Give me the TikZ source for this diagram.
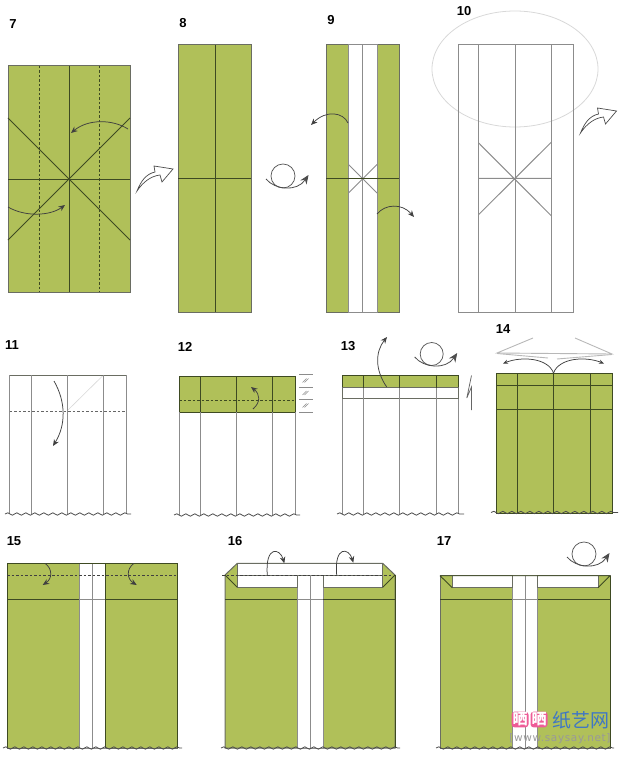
\documentclass[tikz,border=0pt]{standalone}
\usepackage{fontspec}
\setmainfont{Liberation Sans}
\newfontfamily\cjkf{Noto Sans CJK SC}
\newfontfamily\markf[LetterSpace=6]{DejaVu Sans}
\usetikzlibrary{arrows.meta,decorations.pathmorphing}
\definecolor{paper}{HTML}{B0C059}
\definecolor{edge}{HTML}{6A6D62}
\definecolor{crease}{HTML}{3E4A22}
\definecolor{pale}{HTML}{8C8C8C}
\definecolor{faint}{HTML}{D8D8D8}
\definecolor{pinkm}{HTML}{EE5C97}
\definecolor{bluem}{HTML}{3F77C4}
\tikzset{
  sheet/.style={draw=edge,line width=1pt},
  green/.style={sheet,fill=paper},
  blank/.style={draw=pale,line width=1pt,fill=white},
  fold/.style={draw=crease,line width=0.9pt},
  graycrease/.style={draw=pale,line width=1pt},
  valley/.style={draw=crease,line width=0.85pt,dash pattern=on 2.5pt off 2pt},
  move/.style={draw=black!75,line width=0.75pt,-{Stealth[length=6.5pt,width=5.5pt]}},
  hollow/.style={draw=black!70,fill=white,line width=0.7pt,line join=miter},
  wave/.style={draw=black!70,line width=0.8pt,decorate,decoration={snake,amplitude=1.2pt,segment length=9pt}},
  steplabel/.style={font=\bfseries\fontsize{13}{13}\selectfont,inner sep=0pt,text=black},
  flip/.style={draw=black!65,line width=0.75pt},
  flipend/.style={draw=black!70,line width=0.8pt,-{Stealth[length=9pt,width=7.5pt]}}
}
\newcommand{\flipsym}[3]{%
  \draw[flip] (#1,#2) circle (#3);
  \draw[flipend] (#1-17,#2+3) .. controls (#1-8,#2+14) and (#1+14,#2+16) .. (#1+25.5,#2-1);
}
\newcommand{\hollowarrow}[2]{%
  \begin{scope}[shift={(#1,#2)}]
    \draw[hollow] (0,0) .. controls (4,-10) and (9,-17) .. (18,-19)
      -- (17,-25) -- (36,-22) -- (25,-9) -- (23,-16) .. controls (14,-15) and (6,-9) .. cycle;
  \end{scope}
}
\begin{document}
\begin{tikzpicture}[x=1pt,y=-1pt]
\useasboundingbox (0,0) rectangle (620,767);
% labels
\node[steplabel] (s7) at (13,24) {7};
\node[steplabel] (s8) at (183,23) {8};
\node[steplabel] (s9) at (331,20) {9};
\node[steplabel] (s10) at (464,11) {10};
\node[steplabel] (s11) at (12,345) {11};
\node[steplabel] (s12) at (185,347) {12};
\node[steplabel] (s13) at (348,346) {13};
\node[steplabel] (s14) at (503,329) {14};
\node[steplabel] (s15) at (14,541) {15};
\node[steplabel] (s16) at (235,541) {16};
\node[steplabel] (s17) at (444,541) {17};
% --- 7
\draw[green] (8,66) rectangle (130,292);
\draw[valley] (39,66) -- (39,292) (99,66) -- (99,292);
\draw[fold] (69,66) -- (69,292) (8,179) -- (130,179);
\draw[fold] (8,118) -- (130,240) (8,240) -- (130,118);
\draw[move] (128,129) .. controls (112,119) and (88,119) .. (71,133);
\draw[move] (8,207) .. controls (25,217) and (50,216) .. (65,205);
\hollowarrow{137}{191}
% --- 8
\draw[green] (178,45) rectangle (251,312);
\draw[fold] (215,45) -- (215,312) (178,178.5) -- (251,178.5);
\flipsym{283}{176}{12}
% --- 9
\draw[green] (326,45) rectangle (348.5,312);
\draw[green] (377,45) rectangle (399,312);
\draw[blank] (348.5,45) rectangle (377,312);
\draw[graycrease] (362.7,45) -- (362.7,312);
\draw[graycrease] (348.5,164.5) -- (377,193) (348.5,193) -- (377,164.5);
\draw[fold] (326,178.5) -- (399,178.5);
\draw[move] (348,123) .. controls (343,112) and (326,110) .. (311,125);
\draw[move] (377,214) .. controls (385,204) and (402,203) .. (414,217);
% --- 10
\draw[draw=faint,line width=0.8pt] (515,69) ellipse (83 and 58);
\draw[graycrease] (458,45) rectangle (573,312);
\draw[graycrease] (478.7,45) -- (478.7,312) (515,45) -- (515,312) (551.5,45) -- (551.5,312);
\draw[graycrease] (478.7,143) -- (551.5,216) (478.7,214.5) -- (551.5,142) (478.7,178.5) -- (551.5,178.5);
\hollowarrow{580.5}{133}
% --- 11
\draw[draw=faint,line width=0.6pt] (67,411) -- (103.5,375);
\draw[sheet] (9.5,375) -- (126,375);
\draw[graycrease] (9.5,375) -- (9.5,514) (31,375) -- (31,514) (67,375) -- (67,514) (103.5,375) -- (103.5,514) (126,375) -- (126,514);
\draw[valley,draw=black!60] (9.5,411) -- (126,411);
\draw[move] (54,381) .. controls (66,402) and (66,425) .. (53,446);
\draw[wave] (5,514) -- (131,514);
% --- 12
\draw[green,draw=crease] (179,376) rectangle (295,412);
\draw[graycrease] (179,412) -- (179,515) (200,412) -- (200,515) (236.5,412) -- (236.5,515) (272.5,412) -- (272.5,515) (295,412) -- (295,515);
\draw[fold] (200,376) -- (200,412) (236.5,376) -- (236.5,412) (272.5,376) -- (272.5,412);
\draw[valley] (179,400) -- (295,400);
\draw[move] (253,409) .. controls (261,402) and (260,394) .. (251,387);
\draw[wave] (174,515) -- (300,515);
\draw[draw=pale,line width=0.7pt] (299,374) -- (313,374) (299,387) -- (313,387) (299,399) -- (313,399) (299,412) -- (313,412);
\foreach \yy in {381,393.5,406}{
  \draw[draw=pale,line width=0.55pt] (302.5,\yy+1.5) -- (306.5,\yy-2.5) (304.5,\yy+1.5) -- (308.5,\yy-2.5);
}
% --- 13
\draw[green,draw=crease] (342,375) rectangle (458,387.5);
\draw[blank,draw=edge] (342,387.5) rectangle (458,398.5);
\draw[graycrease] (342,398.5) -- (342,514) (363,387.5) -- (363,514) (399.5,387.5) -- (399.5,514) (436,387.5) -- (436,514) (458,398.5) -- (458,514);
\draw[fold] (363,375) -- (363,387.5) (399.5,375) -- (399.5,387.5) (436,375) -- (436,387.5);
\draw[move] (386.7,387) .. controls (375,370) and (375,352) .. (387,337);
\flipsym{431.7}{354}{11.5}
\draw[draw=black!60,line width=0.75pt] (471.5,375.5) -- (466.8,398) -- (471.5,387) -- (471.5,410);
\draw[wave] (337,514) -- (464,514);
% --- 14
\draw[draw=faint!85!black,line width=0.9pt] (533,338) -- (497,353) -- (612,354) -- (575,338);
\draw[draw=faint!85!black,line width=0.9pt] (497,353.5) -- (548,358) (557,359) -- (612,354.5);
\draw[green,draw=crease] (496,373) rectangle (612,513);
\draw[fold] (517.5,373) -- (517.5,513) (553.5,373) -- (553.5,513) (590,373) -- (590,513) (496,385) -- (612,385) (496,409) -- (612,409);
\draw[move,-{Stealth[length=5pt,width=4pt]}] (553.5,373) .. controls (548,358) and (522,356) .. (503,363.5);
\draw[move,-{Stealth[length=5pt,width=4pt]}] (553.5,373) .. controls (559,358) and (585,356) .. (604,363.5);
\draw[wave] (491,512.5) -- (618,512.5);
% --- 15
\draw[green] (7,563.3) rectangle (79.3,748);
\draw[green] (105,563.3) rectangle (177.7,748);
\draw[blank] (79.3,563.3) rectangle (105,748);
\draw[graycrease] (92.5,563.3) -- (92.5,748);
\draw[fold] (7,563.3) -- (177.7,563.3) (7,563.3) -- (7,748) (177.7,563.3) -- (177.7,748) (105,563.3) -- (105,748);
\draw[fold] (7,599) -- (79.3,599) (105,599) -- (177.7,599);
\draw[graycrease] (79.3,599) -- (105,599);
\draw[valley,draw=black!75] (7,575.3) -- (177.7,575.3);
\draw[move] (45,563.3) .. controls (53,569) and (52,579) .. (42.7,585);
\draw[move] (134,563.3) .. controls (126,569) and (127,579) .. (136.7,585);
\draw[wave] (3,748) -- (182,748);
% --- 16
\draw[green] (225,575) -- (237.3,563.3) -- (382.7,563.3) -- (395,575) -- (395,748) -- (225,748) -- cycle;
\draw[blank] (297,575) rectangle (323,748);
\draw[graycrease] (310,575) -- (310,748);
\draw[blank,draw=edge] (237.3,563.3) rectangle (382.7,575);
\draw[blank,draw=edge] (237.3,575) -- (297,575) -- (297,587.3) -- (237.3,587.3) -- cycle;
\draw[blank,draw=edge] (323,575) -- (382.7,575) -- (382.7,587.3) -- (323,587.3) -- cycle;
\fill[white] (297.6,575.6) rectangle (322.4,598.5);
\draw[graycrease] (310,575) -- (310,599);
\draw[fold] (225,575) -- (237.3,587.3) (395,575) -- (382.7,587.3);
\draw[fold] (225,599) -- (297,599) (323,599) -- (395,599);
\draw[graycrease] (297,599) -- (323,599);
\draw[fold] (395,575) -- (395,748);
\draw[valley,draw=black!75] (222,575) -- (392,575);
\draw[move] (267.3,575) .. controls (265,545) and (280,548) .. (284.3,563.3);
\draw[move] (336.7,575) .. controls (334,545) and (349,548) .. (353.3,562.7);
\draw[wave] (221,748) -- (400,748);
% --- 17
\draw[green] (440,575.7) rectangle (610,748);
\draw[blank] (512.3,575.7) rectangle (537.7,748);
\draw[graycrease] (525,575.7) -- (525,748);
\draw[blank,draw=edge] (452.3,575.7) rectangle (512.3,587.7);
\draw[blank,draw=edge] (537.7,575.7) rectangle (598,587.7);
\draw[fold] (440,575.7) -- (610,575.7) (440,575.7) -- (452.3,587.7) (610,575.7) -- (598,587.7);
\draw[fold] (440,599) -- (512.3,599) (537.7,599) -- (610,599) (610,575.7) -- (610,748);
\draw[graycrease] (512.3,599) -- (537.7,599);
\flipsym{584}{554}{12}
\draw[wave] (436,748) -- (614,748);
% watermark
\node[font=\cjkf\bfseries\fontsize{15}{15}\selectfont,text=white,fill=pinkm,rounded corners=3pt,inner sep=1pt] (wm1) at (520,719.5) {晒};
\node[font=\cjkf\bfseries\fontsize{15}{15}\selectfont,text=white,fill=pinkm,rounded corners=3pt,inner sep=1pt] (wm2) at (539,719.5) {晒};
\node[font=\cjkf\fontsize{19}{19}\selectfont,text=bluem,inner sep=0pt,anchor=west] (wm3) at (552,720) {纸艺网};
\node[font=\markf\fontsize{10.5}{10.5}\selectfont,text=black!40,inner sep=0pt] (wm4) at (560,739) {[www.saysay.net]};
\end{tikzpicture}
\end{document}
